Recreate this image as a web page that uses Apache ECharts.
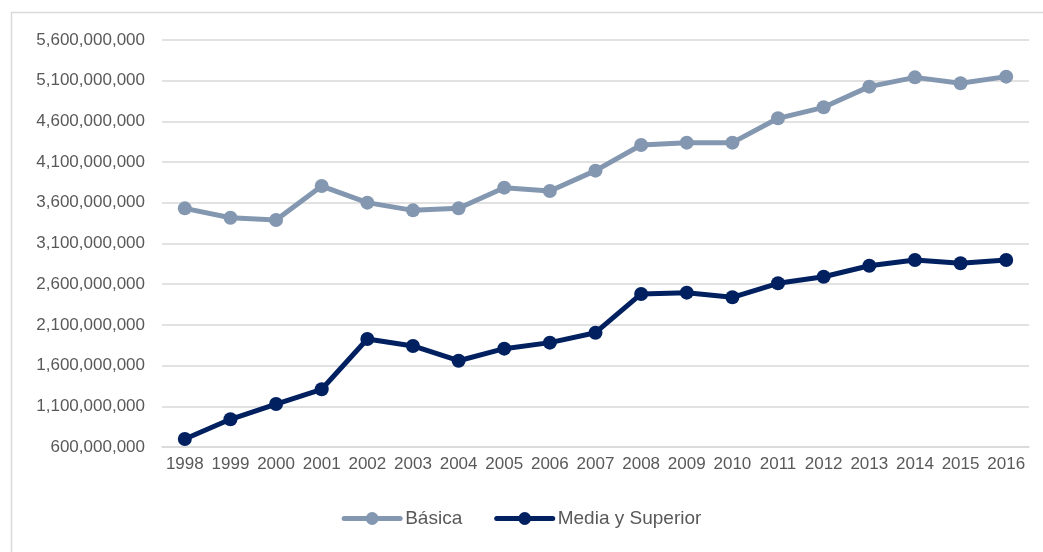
<!DOCTYPE html>
<html>
<head>
<meta charset="utf-8">
<script src="https://cdn.jsdelivr.net/npm/echarts@6/dist/echarts.min.js"></script>
<style>
html,body{margin:0;padding:0;background:#fff;}
#chart{width:1043px;height:552px;}
</style>
</head>
<body>
<div id="chart"></div>
<script>
const years = ['1998','1999','2000','2001','2002','2003','2004','2005','2006','2007','2008','2009','2010','2011','2012','2013','2014','2015','2016'];
const basica = [3532000000,3417000000,3389000000,3806000000,3602000000,3507000000,3532000000,3786000000,3745000000,3995000000,4310000000,4339000000,4339000000,4638000000,4773000000,5027000000,5141000000,5068000000,5150000000];
const mediaSuperior = [698000000,940000000,1128000000,1309000000,1927000000,1841000000,1660000000,1808000000,1882000000,2004000000,2480000000,2496000000,2439000000,2611000000,2692000000,2827000000,2897000000,2857000000,2897000000];
const yMin = 600000000, yMax = 5600000000, yStep = 500000000;

const chart = echarts.init(document.getElementById('chart'));
const fmt = v => v.toString().replace(/\B(?=(\d{3})+(?!\d))/g, ',');
chart.setOption({
  animation: false,
  backgroundColor: '#fff',
  graphic: [{
    type: 'rect', left: 9, top: 10, silent: true,
    shape: { x: 0, y: 0, width: 1100, height: 600 },
    style: { fill: 'none', stroke: '#d9d9d9', lineWidth: 1.5 }
  }],
  grid: { left: 162, right: 14, top: 40, bottom: 105 },
  legend: {
    bottom: 19, left: 'center',
    itemWidth: 56, itemHeight: 16, itemGap: 32,
    lineStyle: { width: 5, cap: 'round' },
    textStyle: { fontFamily: 'Liberation Sans', fontSize: 19, color: '#595959' },
    data: ['Básica', 'Media y Superior']
  },
  xAxis: {
    type: 'category', data: years, boundaryGap: true,
    axisLine: { lineStyle: { color: '#d9d9d9', width: 1.5 } },
    axisTick: { show: false },
    axisLabel: { fontFamily: 'Liberation Sans', fontSize: 17, color: '#595959', margin: 9, interval: 0 }
  },
  yAxis: {
    type: 'value', min: yMin, max: yMax, interval: yStep,
    axisLine: { show: false }, axisTick: { show: false },
    splitLine: { lineStyle: { color: '#d9d9d9', width: 1.5 } },
    axisLabel: { fontFamily: 'Liberation Sans', fontSize: 17, color: '#595959', margin: 17, formatter: fmt }
  },
  series: [
    { name: 'Básica', type: 'line', data: basica, symbol: 'circle', symbolSize: 14,
      lineStyle: { width: 5, color: '#8497B0' }, itemStyle: { color: '#8497B0' } },
    { name: 'Media y Superior', type: 'line', data: mediaSuperior, symbol: 'circle', symbolSize: 14,
      lineStyle: { width: 5, color: '#002060' }, itemStyle: { color: '#002060' } }
  ]
});
</script>
</body>
</html>
